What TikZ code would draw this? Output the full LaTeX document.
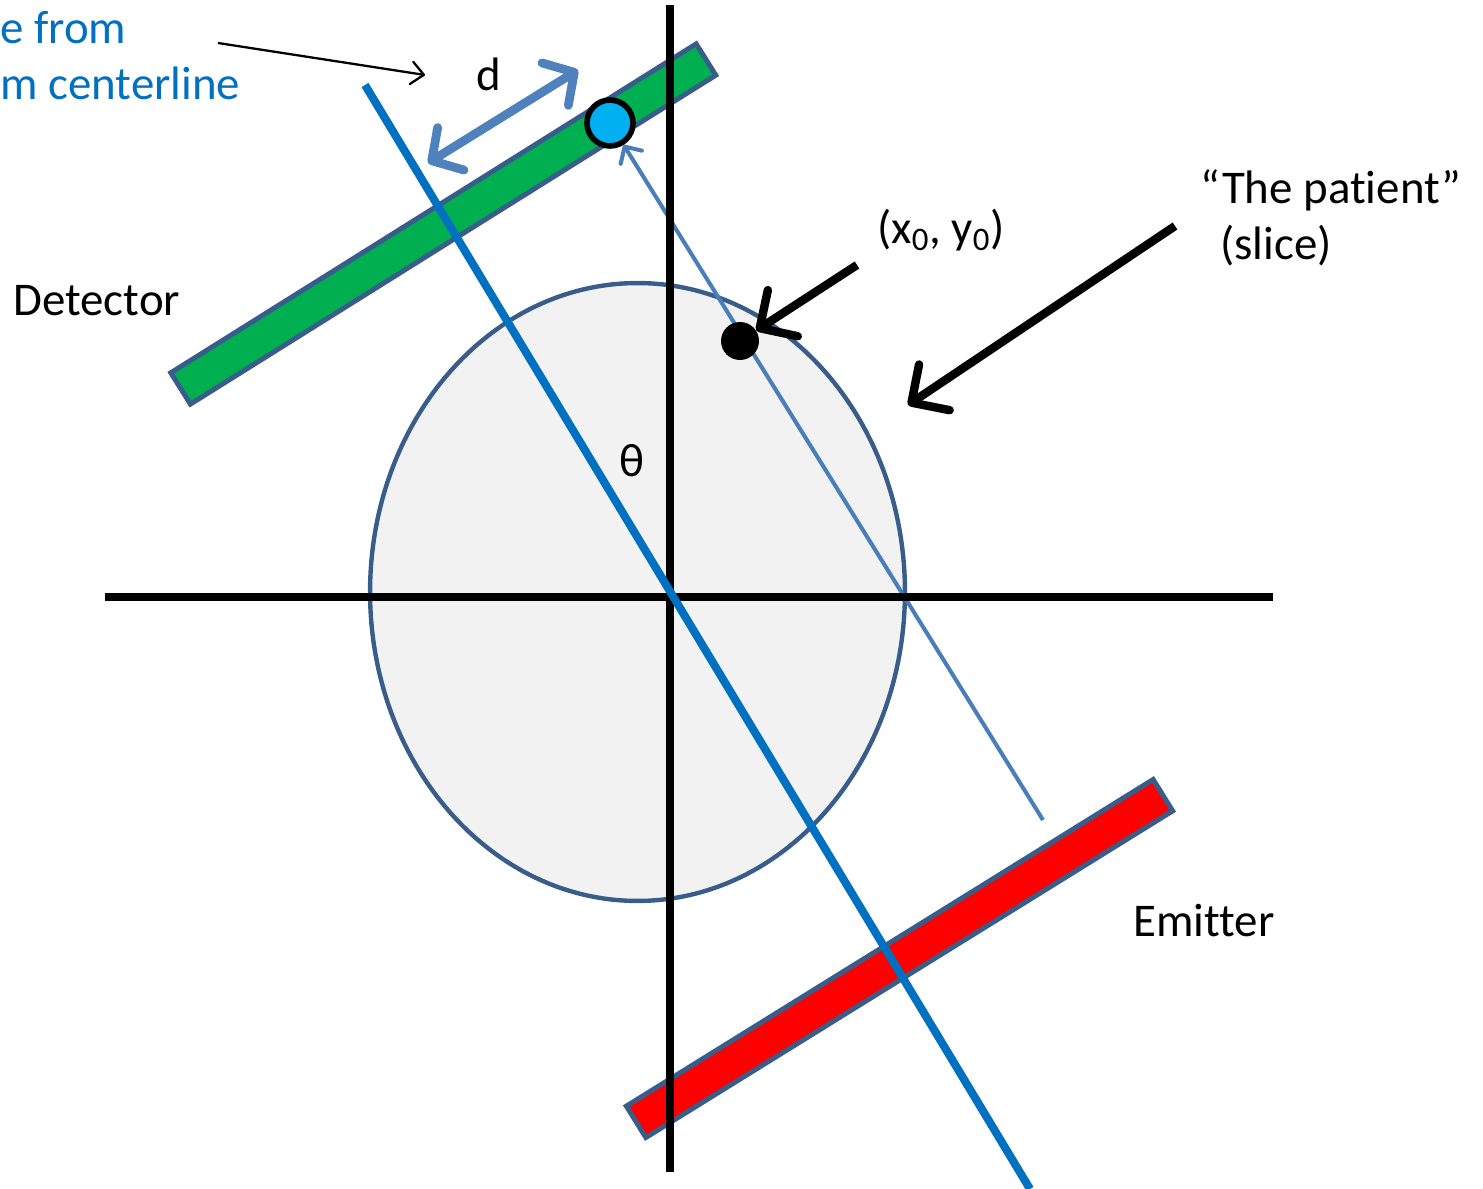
\documentclass[tikz,border=0pt]{standalone}
\usepackage{fontspec}
\setmainfont{Carlito}[Ligatures=NoCommon]
\usetikzlibrary{arrows.meta,shapes.geometric}

\definecolor{beamblue}{HTML}{0070C0}
\definecolor{rayblue}{HTML}{4A7EBB}
\definecolor{dblue}{HTML}{4F81BD}
\definecolor{edgeblue}{HTML}{385D8A}
\definecolor{detgreen}{HTML}{00B050}
\definecolor{hitblue}{HTML}{00B0F0}
\definecolor{slicegray}{HTML}{F2F2F2}

\tikzset{
  lbl/.style={font=\fontsize{26.7}{32.4}\selectfont, inner sep=0pt},
  slice/.style={ellipse, draw=edgeblue, fill=slicegray, line width=2.5pt,
    minimum width=10.7cm, minimum height=12.36cm, inner sep=0pt},
  bar/.style={rectangle, draw=edgeblue, line width=2.8pt,
    minimum width=12.4cm, minimum height=0.74cm, inner sep=0pt},
  axis/.style={line width=4pt},
  fat/.style={line width=4.8pt, -{Straight Barb[round,length=0.55cm,width=1.1cm]}},
}

\begin{document}
\begin{tikzpicture}[x=0.02cm,y=-0.02cm]
  \useasboundingbox (0,0) rectangle (1483,1189);
  % 1. the slice of the patient
  \node[slice] (P) at (637.5,592) {};
  % 2. detector and emitter, square to the beam
  \node[bar, fill=detgreen, rotate=32.05] (D) at (443.3,224) {};
  \node[bar, fill=red, rotate=31.8] (E) at (899.5,958.5) {};
  % 3. the ray that hits the detector
  \node[circle, draw, fill=hitblue, line width=3.2pt, minimum size=0.92cm,
    inner sep=0pt] (H) at (610,123) {};
  \coordinate (S) at (1043,820);
  \draw[rayblue, line width=2.3pt, -{Straight Barb[round,length=0.25cm,width=0.5cm]}]
    (S) -- (H);
  % 4. the axes
  \coordinate (O) at (670,597);
  \draw[axis] (105,597) -- (1273,597);
  \draw[axis] (670,5) -- (670,1172);
  % beam centerline
  \coordinate (C1) at (365,85);
  \coordinate (C2) at (1030,1189);
  \draw[beamblue, line width=4.6pt] (C1) -- (C2);
  % 5. the point on the ray
  \node[circle, fill, minimum size=0.76cm, inner sep=0pt] (X) at (740,341) {};
  % 6. labels and pointers
  \node[lbl, beamblue, anchor=base west, align=left] (dist) at (0,100)
    {e from\\m centerline};
  \coordinate (T1) at (218,43);
  \coordinate (T2) at (425,75);
  \draw[line width=1.3pt, -{Straight Barb[round,length=0.25cm,width=0.45cm]}] (T1) -- (T2);
  \coordinate (dA) at (428,163);
  \coordinate (dB) at (578,70);
  \draw[dblue, line width=5pt,
    {Straight Barb[round,length=0.45cm,width=1cm]}-{Straight Barb[round,length=0.45cm,width=1cm]}]
    (dA) -- (dB);
  \node[lbl, anchor=base] (d) at (489,91) {d};
  \node[lbl, anchor=base west] (det) at (13,316) {Detector};
  \node[lbl, anchor=base] (th) at (632,476) {θ};
  \node[lbl, anchor=base west] (xy) at (877,244) {(x\textsubscript{0}, y\textsubscript{0})};
  \coordinate (A1) at (857,265);
  \draw[fat] (A1) -- (X);
  \node[lbl, anchor=base west, align=left] (pat) at (1200,260)
    {“The patient”\\\hspace*{0.4cm}(slice)};
  \coordinate (B1) at (1175,226);
  \coordinate (B2) at (908,405);
  \draw[fat] (B1) -- (B2);
  \node[lbl, anchor=base west] (emi) at (1133,936) {Emitter};
\end{tikzpicture}
\end{document}
